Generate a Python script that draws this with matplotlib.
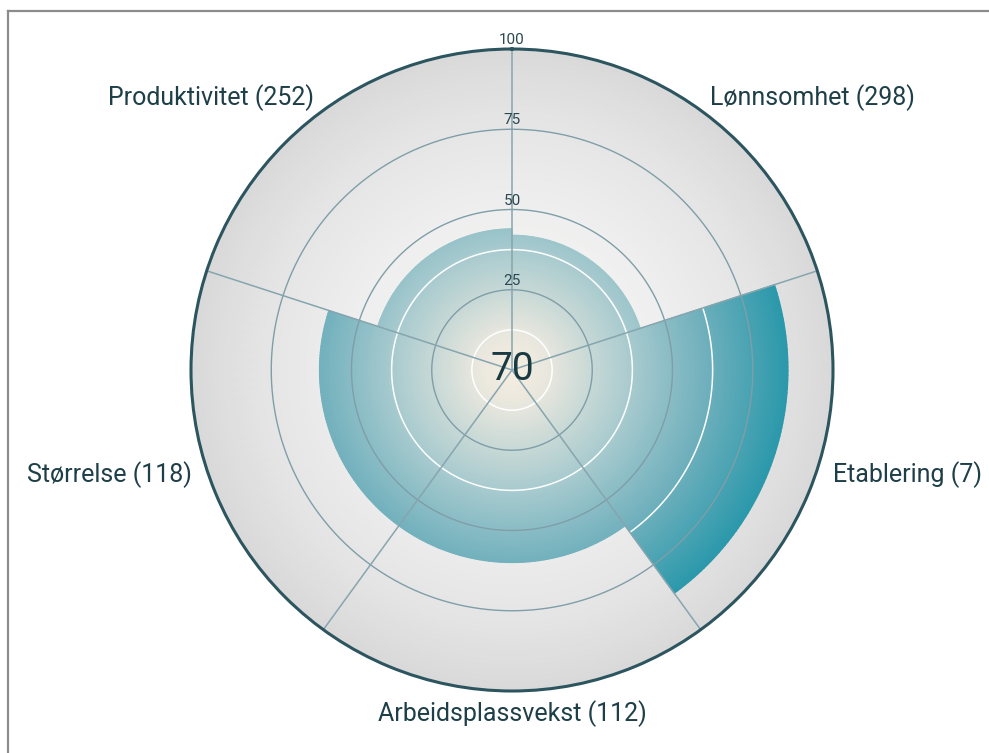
import numpy as np
import matplotlib
matplotlib.use("Agg")
import matplotlib.pyplot as plt
from matplotlib.colors import LinearSegmentedColormap, Normalize
from matplotlib.lines import Line2D

# ---- data ----
categories = ["Lønnsomhet (298)", "Etablering (7)", "Arbeidsplassvekst (112)",
              "Størrelse (118)", "Produktivitet (252)"]
values = [42, 86, 60, 60, 44]
radial_ticks = [25, 50, 75, 100]
center_score = "70"

plt.rcParams['font.family'] = ['Roboto', 'DejaVu Sans']

fig = plt.figure(figsize=(9.89, 7.53), dpi=100)
fig.patch.set_facecolor('white')

# partial frame (top and left)
fig.add_artist(Line2D([8/989, 1.0], [1 - 10.5/753, 1 - 10.5/753], transform=fig.transFigure,
                      color='#8c8c8c', lw=1.6))
fig.add_artist(Line2D([8/989, 8/989], [0, 1 - 10.5/753], transform=fig.transFigure,
                      color='#8c8c8c', lw=1.6))

cx, cy, R = 512, 370, 321
ax = fig.add_axes([(cx - R)/989, (753 - cy - R)/753, 2*R/989, 2*R/753], projection='polar')
ax.set_theta_zero_location('N')
ax.set_theta_direction(-1)
ax.set_ylim(0, 100)
ax.set_facecolor('none')
ax.grid(False)
ax.set_xticks([])
ax.set_yticks([])
ax.spines['polar'].set_color('#2c5560')
ax.spines['polar'].set_linewidth(2.2)
ax.spines['polar'].set_zorder(20)

n = len(categories)
width = 2*np.pi/n
starts = np.arange(n)*width

# background radial gradient
bg_cmap = LinearSegmentedColormap.from_list('bg', [(0.0, '#f5f5f3'), (0.5, '#eeefee'),
                                                   (0.8, '#e4e4e4'), (1.0, '#d9d9d9')])
tt = np.linspace(0, 2*np.pi, 181)
rr = np.linspace(0, 100, 60)
T, Rr = np.meshgrid(tt, rr)
ax.pcolormesh(T, Rr, Rr, cmap=bg_cmap, norm=Normalize(0, 100), shading='gouraud', zorder=1)

# bars with radial gradient
bar_cmap = LinearSegmentedColormap.from_list('bar', [(0.0, '#f8efe2'), (0.12, '#e8e7de'),
                                                     (0.4, '#a2c8cd'), (0.6, '#72b1bd'),
                                                     (0.88, '#2697aa'), (1.0, '#1a8ea3')])
bars = ax.bar(starts, values, width=width, align='edge', color='none', edgecolor='none', zorder=3)
minor = [12.5, 37.5, 62.5, 87.5]
for s, v in zip(starts, values):
    t = np.linspace(s, s + width, 80)
    r = np.linspace(0, v, 60)
    Tb, Rb = np.meshgrid(t, r)
    ax.pcolormesh(Tb, Rb, Rb, cmap=bar_cmap, norm=Normalize(0, 100), shading='gouraud',
                  zorder=2, antialiased=True)
    # white minor circles only inside the bars
    for rv in minor:
        if rv < v:
            ax.plot(t, np.full_like(t, rv), color='white', lw=1.1, zorder=4)

# grid circles
full = np.linspace(0, 2*np.pi, 400)
for rv in radial_ticks[:-1]:
    ax.plot(full, np.full_like(full, rv), color='#7f9ea8', lw=1.0, zorder=5)
for s in starts:
    ax.plot([s, s], [0, 100], color='#86a5ae', lw=1.1, zorder=6)

# radial tick labels
for rv in radial_ticks:
    ax.text(0, rv + 0.6, str(rv), ha='center', va='bottom', fontsize=11, color='#2b4851', zorder=10)

# category labels
for s, lab in zip(starts, categories):
    a = s + width/2
    sa = np.sin(a)
    if abs(sa) < 0.1:
        ha = 'center'
        va = 'top' if np.cos(a) < 0 else 'bottom'
        rl = 103
    else:
        ha = 'left' if sa > 0 else 'right'
        va = 'center'
        rl = 105
    ax.text(a, rl, lab, ha=ha, va=va, fontsize=18, color='#1e3f48', clip_on=False)

# center score
ax.text(0.5, 0.5, center_score, transform=ax.transAxes, ha='center', va='center',
        fontsize=28, color='#1a3a42', zorder=12)

fig.savefig('out.png', dpi=100, facecolor='white')
